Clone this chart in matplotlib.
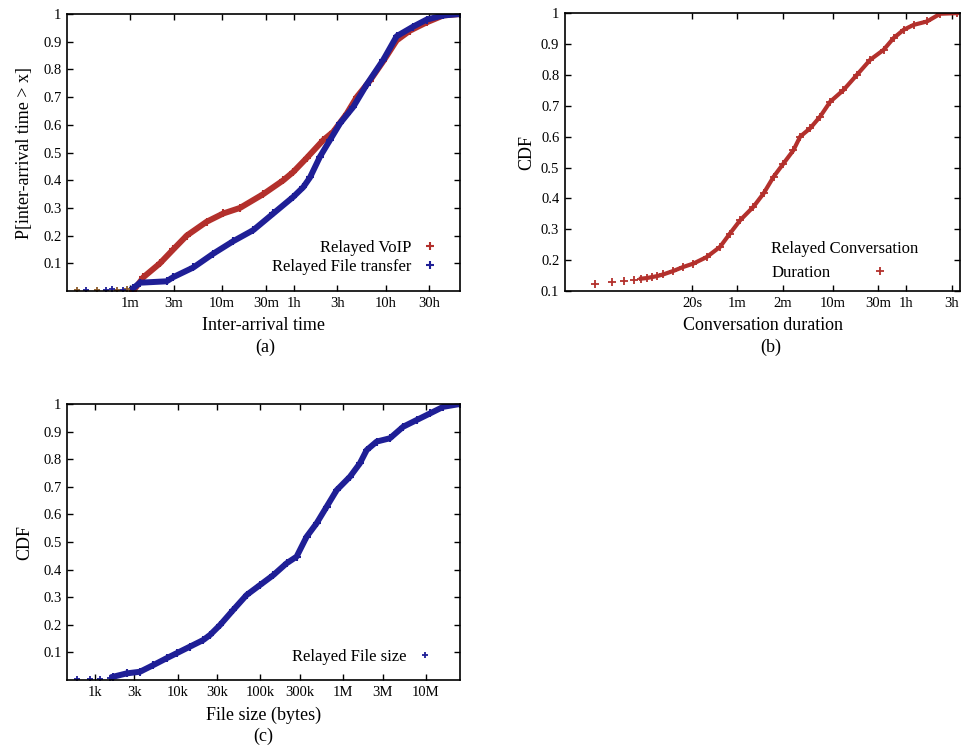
import matplotlib
matplotlib.use('Agg')
import matplotlib.pyplot as plt
from matplotlib.lines import Line2D

plt.rcParams['font.family'] = ['Liberation Serif', 'DejaVu Serif']

# (a) inter-arrival time (seconds) vs probability
voip_x = [65, 84, 127, 177, 248, 408, 620, 941, 1690, 2790, 3575, 4990, 7570,
          9730, 13590, 17460, 24380, 34040, 47530, 66220, 100700, 152800, 230000]
voip_y = [0.0, 0.05, 0.10, 0.15, 0.20, 0.25, 0.28, 0.30, 0.35, 0.40, 0.43, 0.48,
          0.545, 0.575, 0.64, 0.70, 0.76, 0.83, 0.905, 0.94, 0.97, 0.995, 1.0]
file_x = [65, 77, 150, 177, 293, 483, 796, 1315, 2168, 3575, 4590, 5430, 6970,
          8950, 11500, 16070, 22400, 34040, 47530, 72100, 100700, 152800, 230000]
file_y = [0.01, 0.03, 0.035, 0.05, 0.085, 0.135, 0.18, 0.22, 0.28, 0.34, 0.375,
          0.41, 0.485, 0.545, 0.605, 0.665, 0.745, 0.835, 0.92, 0.955, 0.98, 0.995, 1.0]
voip_tail_x = [16, 26, 43, 55]
voip_tail_y = [0.004, 0.004, 0.005, 0.006]
file_tail_x = [20, 33, 38, 51]
file_tail_y = [0.004, 0.005, 0.006, 0.005]
a_ticks = [60, 180, 600, 1800, 3600, 10800, 36000, 108000]
a_labels = ['1m', '3m', '10m', '30m', '1h', '3h', '10h', '30h']

# (b) conversation duration (seconds)
conv_tail_x = [1.9, 2.86, 3.85, 4.9]
conv_tail_y = [0.124, 0.129, 0.131, 0.137]
conv_x = [5.8, 6.7, 7.5, 8.5, 10, 12.7, 16.2, 20.7, 28.5,
          39.4, 50, 64, 88.5, 113, 144, 183, 233, 274, 349, 445, 567, 783, 1083,
          1496, 2066, 2630, 3356, 4280, 5910, 8160, 12200]
conv_y = [0.140, 0.142, 0.145, 0.148, 0.154, 0.165,
          0.178, 0.189, 0.210, 0.243, 0.286, 0.329, 0.373, 0.416, 0.470, 0.513,
          0.556, 0.600, 0.627, 0.665, 0.713, 0.751, 0.800, 0.849, 0.881, 0.919,
          0.946, 0.962, 0.973, 0.998, 1.0]
b_ticks = [20, 60, 180, 600, 1800, 3600, 10800]
b_labels = ['20s', '1m', '2m', '10m', '30m', '1h', '3h']

# (c) file size (bytes)
size_x = [1665, 2415, 3500, 5070, 7350, 9700, 14060, 20370, 24530, 32420, 46900,
          68000, 98600, 142900, 207000, 273500, 361000, 477500, 631000, 834000,
          1.21e6, 1.59e6, 1.92e6, 2.54e6, 3.67e6, 5.32e6, 7.71e6, 1.12e7, 1.62e7, 2.55e7]
size_y = [0.012, 0.024, 0.030, 0.054, 0.079, 0.097, 0.121, 0.145, 0.163, 0.199,
          0.254, 0.308, 0.344, 0.380, 0.423, 0.447, 0.519, 0.568, 0.628, 0.688,
          0.737, 0.785, 0.833, 0.864, 0.876, 0.918, 0.942, 0.966, 0.990, 1.0]
size_tail_x = [601, 870, 1150, 1520]
size_tail_y = [0.003, 0.003, 0.004, 0.006]
c_ticks = [1e3, 3e3, 1e4, 3e4, 1e5, 3e5, 1e6, 3e6, 1e7]
c_labels = ['1k', '3k', '10k', '30k', '100k', '300k', '1M', '3M', '10M']

red = '#b3302c'
blue = '#1f1f96'

fig = plt.figure(figsize=(9.64, 7.51), dpi=100)
ax_a = fig.add_axes([0.0695, 0.6125, 0.4077, 0.3688])
ax_b = fig.add_axes([0.586, 0.6125, 0.41, 0.370])
ax_c = fig.add_axes([0.0695, 0.0945, 0.4077, 0.3675])


def style(ax, yticks, ylabels):
    ax.set_xscale('log')
    ax.minorticks_off()
    ax.set_yticks(yticks)
    ax.set_yticklabels(ylabels)
    ax.tick_params(direction='in', length=4, width=1, top=True, right=True,
                   labelsize=10.5, pad=4)
    for s in ax.spines.values():
        s.set_linewidth(1.2)


yt = [0.1, 0.2, 0.3, 0.4, 0.5, 0.6, 0.7, 0.8, 0.9, 1.0]
yl = ['0.1', '0.2', '0.3', '0.4', '0.5', '0.6', '0.7', '0.8', '0.9', '1']

# panel (a)
ax_a.plot(voip_x, voip_y, color=red, lw=4.3, marker='+', ms=6, mew=1.5)
ax_a.plot(file_x, file_y, color=blue, lw=4.3, marker='+', ms=6, mew=1.5)
ax_a.plot(voip_tail_x, voip_tail_y, ls='none', color='#8a5a2a', marker='+', ms=5, mew=1.3)
ax_a.plot(file_tail_x, file_tail_y, ls='none', color=blue, marker='+', ms=5, mew=1.3)
style(ax_a, yt, yl)
ax_a.set_xlim(12.4, 232000)
ax_a.set_ylim(0, 1)
ax_a.set_xticks(a_ticks)
ax_a.set_xticklabels(a_labels)
ax_a.set_xlabel('Inter-arrival time', fontsize=13, labelpad=5)
ax_a.set_ylabel('P[inter-arrival time > x]', fontsize=13, labelpad=7)
ha = [Line2D([], [], ls='none', color=red, marker='+', ms=6, mew=1.5),
      Line2D([], [], ls='none', color=blue, marker='+', ms=6, mew=1.5)]
ax_a.legend(ha, ['Relayed VoIP', 'Relayed File transfer'], loc='lower right',
            bbox_to_anchor=(0.944, 0.058), frameon=False, markerfirst=False,
            fontsize=12, handlelength=1, handletextpad=0.6, labelspacing=0.2,
            borderpad=0, borderaxespad=0)

# panel (b)
ax_b.plot(conv_x, conv_y, color=red, lw=3, marker='+', ms=6, mew=1.3)
ax_b.plot(conv_tail_x, conv_tail_y, ls='none', color=red, marker='+', ms=6, mew=1.3)
style(ax_b, yt, yl)
ax_b.set_xlim(0.92, 13200)
ax_b.set_ylim(0.1, 1)
ax_b.set_xticks(b_ticks)
ax_b.set_xticklabels(b_labels)
ax_b.set_xlabel('Conversation duration', fontsize=13, labelpad=5)
ax_b.set_ylabel('CDF', fontsize=13, labelpad=4)
hb = [Line2D([], [], ls='none', color=red, marker='+', ms=6, mew=1.3)]
ax_b.legend(hb, ['Duration'], title='Relayed Conversation', alignment='left',
            loc='lower left', bbox_to_anchor=(0.522, 0.035), frameon=False,
            markerfirst=False, fontsize=12, title_fontsize=12, handlelength=2,
            handletextpad=2.0, borderpad=0, borderaxespad=0)

# panel (c)
ax_c.plot(size_x, size_y, color=blue, lw=4.3, marker='+', ms=6, mew=1.5)
ax_c.plot(size_tail_x, size_tail_y, ls='none', color=blue, marker='+', ms=5, mew=1.3)
style(ax_c, yt, yl)
ax_c.set_xlim(460, 2.58e7)
ax_c.set_ylim(0, 1)
ax_c.set_xticks(c_ticks)
ax_c.set_xticklabels(c_labels)
ax_c.set_xlabel('File size (bytes)', fontsize=13, labelpad=5.5)
ax_c.set_ylabel('CDF', fontsize=13, labelpad=7)
hc = [Line2D([], [], ls='none', color=blue, marker='+', ms=5, mew=1.3)]
ax_c.legend(hc, ['Relayed File size'], loc='lower right',
            bbox_to_anchor=(0.931, 0.054), frameon=False, markerfirst=False,
            fontsize=12, handlelength=1, handletextpad=0.6,
            borderpad=0, borderaxespad=0)

fig.text(0.275, 0.538, '(a)', fontsize=13, ha='center', va='center')
fig.text(0.800, 0.538, '(b)', fontsize=13, ha='center', va='center')
fig.text(0.273, 0.019, '(c)', fontsize=13, ha='center', va='center')

fig.savefig('out.png', dpi=100)
